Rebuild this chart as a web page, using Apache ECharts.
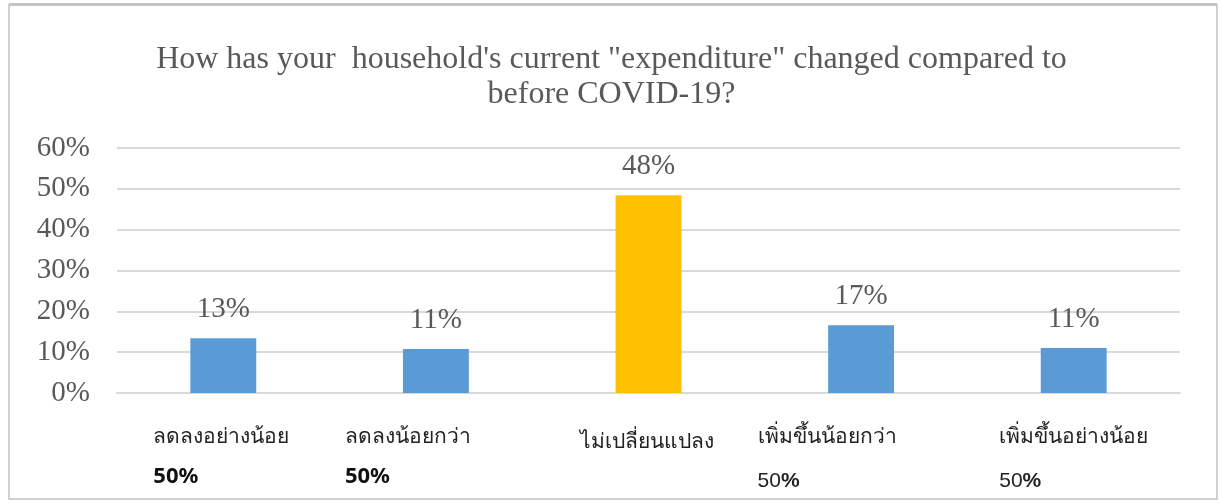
<!DOCTYPE html>
<html><head><meta charset="utf-8">
<script src="https://cdn.jsdelivr.net/npm/echarts@6/dist/echarts.min.js"></script>
<style>html,body{margin:0;padding:0;background:#fff;}#c{width:1223px;height:503px;}</style>
</head><body><div id="c"></div>
<script>
const titleText = 'How has your  household\'s current "expenditure" changed compared to\nbefore COVID-19?';
const categories = ['ลดลงอย่างน้อย', 'ลดลงน้อยกว่า', 'ไม่เปลี่ยนแปลง', 'เพิ่มขึ้นน้อยกว่า', 'เพิ่มขึ้นอย่างน้อย'];
const subLabels = ['50%', '50%', '', '50%', '50%'];
const values = [13.4, 10.8, 48.4, 16.6, 11.0];
const yTicks = [0, 10, 20, 30, 40, 50, 60];
const highlightIndex = 2;

// layout-only: horizontal nudges of category labels (px, negative = left)
const labelShift = [-2, -28, -2, -34, 0];
const boldSub = [true, true, false, false, false];

const chart = echarts.init(document.getElementById('c'));
const serif = '"Liberation Serif", "Times New Roman", serif';
const thai = 'Tahoma, "Noto Sans", "DejaVu Sans", sans-serif';

chart.setOption({
  backgroundColor: '#fff',
  animation: false,
  title: {
    text: titleText,
    left: 'center',
    top: 37,
    textStyle: { fontFamily: serif, fontSize: 32, fontWeight: 'normal', color: '#595959', lineHeight: 35 }
  },
  graphic: [{
    type: 'rect', shape: { x: 9, y: 5, width: 1208, height: 494 },
    style: { fill: 'none', stroke: '#d0d0d0', lineWidth: 2 }, silent: true
  }, {
    type: 'rect', shape: { x: 9, y: 3, width: 1208, height: 3 },
    style: { fill: '#c4c4c4' }, silent: true
  }],
  grid: { left: 117, right: 43, top: 148, bottom: 110 },
  xAxis: {
    type: 'category',
    data: categories.map((c, i) => {
      const s = labelShift[i];
      return { value: c, textStyle: { padding: s < 0 ? [0, -2 * s, 0, 0] : [0, 0, 0, 2 * s] } };
    }),
    axisLine: { show: true, lineStyle: { color: '#d9d9d9', width: 2 } },
    axisTick: { show: false },
    axisLabel: {
      margin: 24,
      interval: 0,
      formatter: function (v, i) {
        const sub = subLabels[i];
        if (!sub) return '{c|' + v + '}';
        if (boldSub[i]) return '{a|' + v + '}\n{b|' + sub + '}';
        const num = sub.replace('%', '');
        return '{a|' + v + '}\n{d|' + num + '}{e|%}';
      },
      rich: {
        a: { fontFamily: thai, fontSize: 21, color: '#222', lineHeight: 40, align: 'left' },
        b: { fontFamily: thai, fontSize: 22, fontWeight: 'bold', color: '#111', lineHeight: 40, align: 'left' },
        c: { fontFamily: thai, fontSize: 21, color: '#222', lineHeight: 40, padding: [10, 0, 0, 0] },
        d: { fontFamily: '"Liberation Sans Narrow", "Liberation Sans", Arial, sans-serif', fontSize: 21, color: '#222', lineHeight: 48, align: 'left' },
        e: { fontFamily: '"Liberation Sans", Arial, sans-serif', fontSize: 21, fontWeight: 'bold', color: '#222', lineHeight: 48, align: 'left' }
      }
    }
  },
  yAxis: {
    type: 'value',
    min: yTicks[0],
    max: yTicks[yTicks.length - 1],
    interval: yTicks[1] - yTicks[0],
    axisLine: { show: false },
    axisTick: { show: false },
    splitLine: { lineStyle: { color: '#d9d9d9', width: 2 } },
    axisLabel: { formatter: '{value}%', fontFamily: serif, fontSize: 29, color: '#595959', margin: 27 }
  },
  series: [{
    type: 'bar',
    data: values.map((v, i) => ({ value: v, itemStyle: { color: i === highlightIndex ? '#FFC000' : '#5B9BD5' } })),
    barWidth: '31%',
    label: {
      show: true, position: 'top', distance: 14,
      formatter: p => Math.round(p.value) + '%',
      fontFamily: serif, fontSize: 29, color: '#595959'
    }
  }]
});
</script></body></html>
